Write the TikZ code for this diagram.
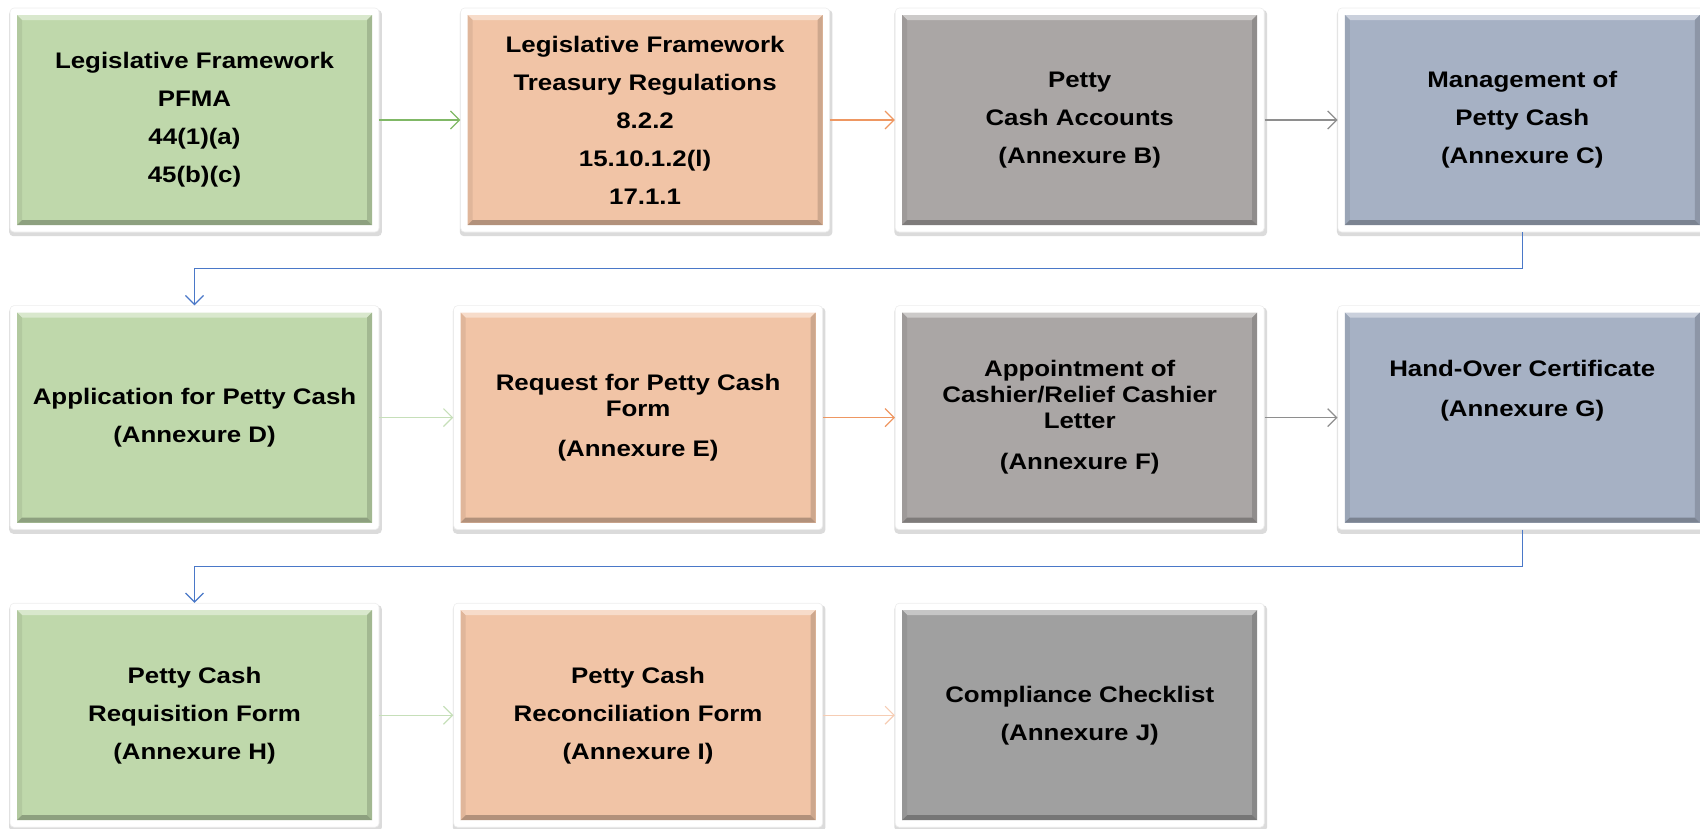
\documentclass[tikz,border=0pt]{standalone}
\usepackage{fontspec}
\setmainfont{Liberation Sans}[FakeStretch=1.15]
\usepackage{tikz}
\usetikzlibrary{arrows.meta,positioning,shadows}

\definecolor{tilegreen}{HTML}{BFD8AB}
\definecolor{tilepeach}{HTML}{F1C4A6}
\definecolor{tilestone}{HTML}{AAA6A5}
\definecolor{tileslate}{HTML}{A6B1C4}
\definecolor{tilegrey}{HTML}{A0A0A0}
\definecolor{arrgreen}{HTML}{80B866}
\definecolor{arrgreenlt}{HTML}{C6DFB9}
\definecolor{arrpeach}{HTML}{EE9762}
\definecolor{arrpeachlt}{HTML}{F6CDB4}
\definecolor{arrgrey}{HTML}{8E8E8E}
\definecolor{arrblue}{HTML}{4A78C8}

\begin{document}
\begin{tikzpicture}[
    x=1pt, y=-1pt,
    tile/.store in=\tilecol,
    box/.style={rectangle, rounded corners=4pt, fill=white, draw=black!7, line width=0.6pt,
        minimum width=369pt, minimum height=224pt,
        inner sep=0pt, align=center, font=\fontsize{22.5}{26}\selectfont\bfseries,
        drop shadow={shadow xshift=1pt, shadow yshift=-3pt, shadow scale=1.01, fill=black, opacity=0.14},
        path picture={
            \begin{scope}[sharp corners]
            \coordinate (pA) at ([shift={(7pt,-7pt)}]path picture bounding box.north west);
            \coordinate (pB) at ([shift={(-7pt,-7pt)}]path picture bounding box.north east);
            \coordinate (pC) at ([shift={(-7pt,7pt)}]path picture bounding box.south east);
            \coordinate (pD) at ([shift={(7pt,7pt)}]path picture bounding box.south west);
            \coordinate (pa) at ([shift={(5pt,-5pt)}]pA);
            \coordinate (pb) at ([shift={(-5pt,-5pt)}]pB);
            \coordinate (pc) at ([shift={(-5pt,5pt)}]pC);
            \coordinate (pd) at ([shift={(5pt,5pt)}]pD);
            \fill[fill=\tilecol] (pA) rectangle (pC);
            \fill[fill=\tilecol!60!white] (pA) -- (pB) -- (pb) -- (pa) -- cycle;
            \fill[fill=\tilecol!93!black] (pA) -- (pa) -- (pd) -- (pD) -- cycle;
            \fill[fill=\tilecol!85!black] (pB) -- (pb) -- (pc) -- (pC) -- cycle;
            \fill[fill=\tilecol!74!black] (pD) -- (pd) -- (pc) -- (pC) -- cycle;
            \end{scope}
        }},
    greenbox/.style={box, tile=tilegreen},
    peachbox/.style={box, tile=tilepeach},
    stonebox/.style={box, tile=tilestone},
    slatebox/.style={box, tile=tileslate},
    greybox/.style={box, tile=tilegrey},
    arr/.style={-{Straight Barb[length=9pt,width=18pt]}, line width=1.2pt},
]
\useasboundingbox (0,0) rectangle (1700,828);
% Row 1
\node[greenbox] (pfma) at (194.5,120) {Legislative Framework\\[12pt]PFMA\\[12pt]44(1)(a)\\[12pt]45(b)(c)};
\node[peachbox, right=81pt of pfma] (treas) {Legislative Framework\\[12pt]Treasury Regulations\\[12pt]8.2.2\\[12pt]15.10.1.2(l)\\[12pt]17.1.1};
\node[stonebox, right=65pt of treas] (accts) {Petty\\[12pt]Cash Accounts\\[12pt](Annexure B)};
\node[slatebox, right=73pt of accts] (mgmt) {Management of\\[12pt]Petty Cash\\[12pt](Annexure C)};
% Row 2
\node[greenbox, below=73pt of pfma] (appl) {Application for Petty Cash\\[12pt](Annexure D)};
\node[peachbox, right=74pt of appl] (req) {Request for Petty Cash\\Form\\[14pt](Annexure E)};
\node[stonebox, right=72pt of req] (appt) {Appointment of\\Cashier/Relief Cashier\\Letter\\[15pt](Annexure F)};
\node[slatebox, right=73pt of appt] (hand) {Hand-Over Certificate\\[14pt](Annexure G)\\[32pt]\mbox{}};
% Row 3
\node[greenbox, below=73pt of appl] (reqn) {Petty Cash\\[12pt]Requisition Form\\[12pt](Annexure H)};
\node[peachbox, right=74pt of reqn] (recon) {Petty Cash\\[12pt]Reconciliation Form\\[12pt](Annexure I)};
\node[greybox, right=72pt of recon] (check) {Compliance Checklist\\[12pt](Annexure J)};
% Arrows along the rows
\draw[arr, arrgreen] (pfma) -- (treas);
\draw[arr, arrpeach] (treas) -- (accts);
\draw[arr, arrgrey] (accts) -- (mgmt);
\draw[arr, arrgreenlt] (appl) -- (req);
\draw[arr, arrpeach] (req) -- (appt);
\draw[arr, arrgrey] (appt) -- (hand);
\draw[arr, arrgreenlt] (reqn) -- (recon);
\draw[arr, arrpeachlt] (recon) -- (check);
% Row to row
\draw[arr, arrblue] (mgmt.south) -- ++(0,36.5) -| (appl.north);
\draw[arr, arrblue] (hand.south) -- ++(0,36.5) -| (reqn.north);
\end{tikzpicture}
\end{document}
